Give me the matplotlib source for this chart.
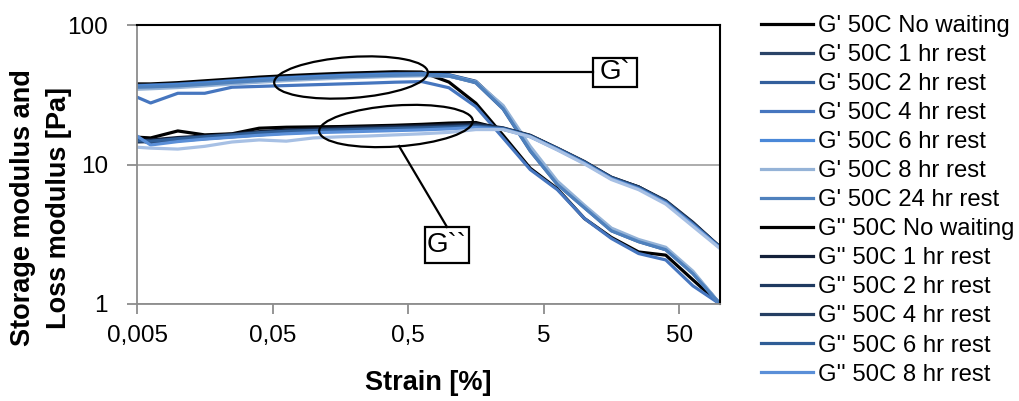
import matplotlib.pyplot as plt
from matplotlib.patches import Ellipse, Rectangle
from matplotlib.lines import Line2D
from matplotlib.ticker import NullLocator

plt.rcParams['font.family'] = ['Liberation Sans', 'DejaVu Sans']

# amplitude sweep, strain in %
strain = [0.005, 0.0063, 0.01, 0.0158, 0.0251, 0.0398, 0.0631, 0.1, 0.158, 0.251,
          0.398, 0.631, 1, 1.58, 2.51, 3.98, 6.31, 10, 15.8, 25.1, 39.8, 63.1, 100]

# storage modulus G' [Pa]
g1_none = [37.8, 37.8, 38.6, 39.8, 41.0, 42.3, 43.3, 44.2, 45.0, 45.6, 46.2, 46.0,
           39.0, 27.5, 16.2, 9.4, 6.7, 4.1, 3.0, 2.36, 2.24, 1.49, 1.0]
g1_1h = [37.0, 37.2, 37.8, 38.8, 40.0, 41.2, 42.2, 43.0, 43.8, 44.4, 44.9, 45.1,
         44.0, 39.5, 26.0, 13.0, 7.4, 5.0, 3.45, 2.85, 2.5, 1.68, 1.0]
g1_2h = [36.2, 36.5, 37.0, 38.0, 39.2, 40.3, 41.3, 42.1, 42.8, 43.4, 43.9, 44.2,
         43.2, 38.5, 25.0, 12.5, 7.2, 4.9, 3.35, 2.8, 2.45, 1.66, 1.0]
g1_4h = [30.4, 27.6, 32.4, 32.4, 35.8, 36.3, 36.8, 37.3, 37.8, 38.3, 38.9, 39.3,
         35.5, 26.0, 15.5, 9.2, 6.6, 4.1, 2.95, 2.3, 2.07, 1.35, 1.0]
g1_6h = [36.6, 36.9, 37.5, 38.5, 39.7, 40.8, 41.8, 42.6, 43.4, 44.0, 44.5, 44.7,
         43.8, 39.2, 25.6, 12.9, 7.3, 4.95, 3.4, 2.85, 2.5, 1.68, 1.0]
g1_8h = [34.6, 34.9, 35.6, 36.6, 37.8, 38.9, 39.9, 40.8, 41.6, 42.2, 42.8, 43.2,
         43.0, 39.0, 26.5, 13.5, 7.6, 5.1, 3.5, 2.9, 2.55, 1.72, 1.0]
g1_24h = [35.8, 36.0, 36.6, 37.6, 38.8, 39.9, 40.9, 41.7, 42.5, 43.1, 43.6, 44.0,
          43.0, 38.8, 25.2, 12.6, 7.2, 4.9, 3.35, 2.8, 2.45, 1.65, 1.0]

# loss modulus G'' [Pa]
g2_none = [15.7, 15.5, 17.4, 16.3, 16.6, 18.2, 18.5, 18.6, 18.7, 18.9, 19.1, 19.4,
           19.8, 20.0, 17.9, 16.1, 13.0, 10.4, 8.0, 6.9, 5.4, 3.8, 2.56]
g2_1h = [14.8, 15.0, 15.6, 16.0, 16.5, 17.2, 17.7, 18.0, 18.3, 18.5, 18.7, 18.9,
         19.2, 19.5, 18.3, 16.2, 13.1, 10.5, 8.1, 6.9, 5.5, 3.85, 2.56]
g2_2h = [14.5, 14.6, 15.2, 15.7, 16.2, 16.8, 17.3, 17.6, 17.9, 18.1, 18.3, 18.5,
         18.8, 19.1, 18.2, 16.1, 13.0, 10.4, 8.1, 6.9, 5.45, 3.8, 2.55]
g2_4h = [15.2, 14.2, 14.8, 15.3, 15.8, 16.3, 16.8, 17.1, 17.4, 17.6, 17.8, 18.0,
         18.3, 18.6, 18.0, 16.0, 12.9, 10.3, 8.0, 6.8, 5.4, 3.75, 2.55]
g2_6h = [14.9, 14.7, 15.3, 15.8, 16.3, 16.9, 17.3, 17.5, 17.7, 17.9, 18.1, 18.3,
         18.5, 18.8, 18.1, 16.0, 13.0, 10.4, 8.0, 6.8, 5.4, 3.75, 2.55]
g2_8h = [16.0, 13.8, 14.6, 15.2, 15.7, 16.2, 16.6, 16.9, 17.1, 17.3, 17.5, 17.7,
         18.0, 18.4, 17.9, 15.8, 12.8, 10.2, 7.9, 6.7, 5.3, 3.7, 2.52]
g2_24h = [13.3, 13.1, 12.9, 13.5, 14.5, 15.0, 14.7, 15.5, 15.8, 16.0, 16.3, 16.6,
          17.0, 17.8, 17.8, 15.8, 12.7, 10.1, 7.8, 6.6, 5.2, 3.6, 2.5]

series = [
    ("G' 50C No waiting", g1_none, '#000000'),
    ("G' 50C 1 hr rest", g1_1h, '#2a4468'),
    ("G' 50C 2 hr rest", g1_2h, '#335f9c'),
    ("G' 50C 4 hr rest", g1_4h, '#4676bf'),
    ("G' 50C 6 hr rest", g1_6h, '#4a88d8'),
    ("G' 50C 8 hr rest", g1_8h, '#95b3d7'),
    ("G' 50C 24 hr rest", g1_24h, '#4f81bd'),
    ("G'' 50C No waiting", g2_none, '#000000'),
    ("G'' 50C 1 hr rest", g2_1h, '#14213a'),
    ("G'' 50C 2 hr rest", g2_2h, '#1f3a60'),
    ("G'' 50C 4 hr rest", g2_4h, '#253f63'),
    ("G'' 50C 6 hr rest", g2_6h, '#2f5d96'),
    ("G'' 50C 8 hr rest", g2_8h, '#5a8fd8'),
    ("G'' 50C 24 hr rest", g2_24h, '#a7c0e4'),
]

W, H = 1019, 401
fig = plt.figure(figsize=(W / 100, H / 100), dpi=100)
ax = fig.add_axes([137 / W, 1 - 304 / H, (720 - 137) / W, (304 - 25) / H])

handles = []
for label, vals, col in series:
    ln, = ax.plot(strain, vals, color=col, lw=2.3, solid_joinstyle='round', label=label)
    handles.append(ln)

ax.set_xscale('log')
ax.set_yscale('log')
ax.set_xlim(0.005, 100)
ax.set_ylim(1, 100)
ax.set_xticks([0.005, 0.05, 0.5, 5, 50])
ax.set_xticklabels(['0,005', '0,05', '0,5', '5', '50'])
ax.set_yticks([1, 10, 100])
ax.set_yticklabels(['1', '10', '100'])
ax.xaxis.set_minor_locator(NullLocator())
ax.yaxis.set_minor_locator(NullLocator())
ax.tick_params(axis='both', direction='out', length=7, width=1.3, color='#8c8c8c',
               labelsize=17.5)
ax.tick_params(axis='y', pad=14)
ax.tick_params(axis='x', pad=8)
ax.yaxis.grid(True, color='#a6a6a6', lw=1.3)
ax.set_axisbelow(True)
for side in ('left', 'bottom'):
    ax.spines[side].set_color('#8c8c8c')
    ax.spines[side].set_linewidth(1.3)
for side in ('top', 'right'):
    ax.spines[side].set_color('#000000')
    ax.spines[side].set_linewidth(1.5)

fig.text(428.5 / W, 1 - 383 / H, 'Strain [%]', fontsize=19.5, fontweight='bold',
         ha='center', va='center')
fig.text(41 / W, 1 - 208 / H, 'Storage modulus and\nLoss modulus [Pa]', fontsize=19.5,
         fontweight='bold', rotation=90, ha='center', va='center',
         multialignment='center', linespacing=1.45)


def px(x, y):
    # pixel position (from top-left) to figure inches
    return x / 100, (H - y) / 100


tr = fig.dpi_scale_trans
# ellipses around the two groups with call-out boxes
for cx, cy in [(351, 77.5), (396, 126)]:
    fig.patches.append(Ellipse(px(cx, cy), 1.54, 0.41, angle=4, transform=tr,
                               fill=False, ec='black', lw=1.6))
for (x0, y0), (x1, y1) in [((428, 72.3), (593, 72.3)), ((399, 146), (447, 227))]:
    a, b = px(x0, y0), px(x1, y1)
    fig.lines.append(Line2D([a[0], b[0]], [a[1], b[1]], transform=tr, color='black', lw=1.6))
for (x0, y0, x1, y1), txt in [((593, 58, 637, 87), 'G`'), ((425, 227, 469, 263), 'G``')]:
    fig.patches.append(Rectangle(px(x0, y1), (x1 - x0) / 100, (y1 - y0) / 100, transform=tr,
                                 fc='white', ec='black', lw=1.6))
    c = px((x0 + x1) / 2, (y0 + y1) / 2)
    fig.text(c[0] / (W / 100), c[1] / (H / 100), txt, fontsize=20, ha='center', va='center')

fig.legend(handles[:13], [s[0] for s in series[:13]], loc='upper left',
           bbox_to_anchor=(761 / W, 1 - 15 / H), frameon=False, fontsize=17.2,
           handlelength=2.18, handletextpad=0.22, labelspacing=0.295,
           borderpad=0, borderaxespad=0)

fig.savefig('out.png', dpi=100)
